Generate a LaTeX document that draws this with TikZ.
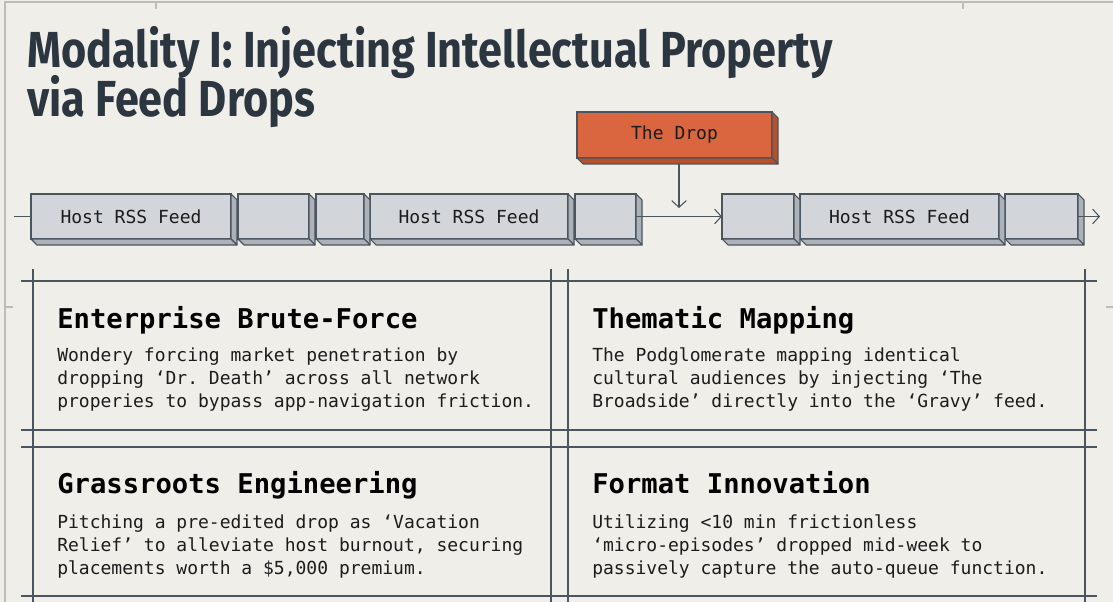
\documentclass[tikz,border=0pt]{standalone}
\usepackage{fontspec}
\setmonofont{DejaVu Sans Mono}
\newfontfamily\titlefont{Fira Sans}[FakeStretch=0.853]
\usetikzlibrary{arrows.meta,calc}
\definecolor{bg}{HTML}{F0EEE8}
\definecolor{slate}{HTML}{4A5560}
\definecolor{titlec}{HTML}{2B3640}
\definecolor{face}{HTML}{D2D6DA}
\definecolor{side}{HTML}{ACB2B8}
\definecolor{dropc}{HTML}{D9663E}
\definecolor{dropside}{HTML}{B4522D}
\definecolor{framec}{HTML}{BDBDB8}
\definecolor{ink}{HTML}{1C1C1C}
\tikzset{
  feedbox/.style={draw=slate, line width=0.8pt, fill=face, minimum height=33.75pt, inner sep=0pt, outer sep=0pt,
    font=\ttfamily\fontsize{13.5}{16}\selectfont, text=ink},
  dropbox/.style={feedbox, fill=dropc, minimum height=34.5pt},
  gridline/.style={draw=slate, line width=1pt},
  frameline/.style={draw=framec, line width=1.4pt},
  arr/.style={draw=slate, line width=0.8pt, -{Straight Barb[length=5pt,width=11pt,line width=0.8pt]}},
  plain/.style={draw=slate, line width=0.8pt},
  heading/.style={anchor=base west, inner sep=0pt, font=\ttfamily\bfseries\fontsize{20.4}{24}\selectfont, text=black},
  bodytext/.style={anchor=north west, inner sep=0pt, align=left, font=\ttfamily\fontsize{13.5}{17.25}\selectfont, text=ink},
  titletext/.style={anchor=base west, inner sep=0pt, font=\titlefont\bfseries\fontsize{38}{40}\selectfont, text=titlec}
}
\newcommand\extrude[2]{%
  \filldraw[fill=#2, draw=slate, line width=0.8pt, line join=round]
    (#1.north east) -- ++(6,6) -- ($(#1.south east)+(6,6)$) -- (#1.south east) -- cycle;
  \filldraw[fill=#2, draw=slate, line width=0.8pt, line join=round]
    (#1.south west) -- ++(6,6) -- ($(#1.south east)+(6,6)$) -- (#1.south east) -- cycle;
}
\begin{document}
\begin{tikzpicture}[x=0.75pt, y=-0.75pt]
\fill[bg] (0,0) rectangle (1113,602);
\useasboundingbox (0,0) rectangle (1113,602);

% outer frame
\draw[frameline] (5,602) -- (5,2) -- (1113,2);
\draw[frameline] (156,2) -- (156,9);
\draw[frameline] (963,2) -- (963,9);
\draw[frameline] (5,307) -- (13,307);
\draw[frameline] (1106,307) -- (1113,307);

% title
\node[titletext] (title1) at (27,68) {Modality I: Injecting Intellectual Property};
\node[titletext] (title2) at (27,117) {via Feed Drops};

% feed row
\node[feedbox, minimum width=150pt]   (b1) at (131,216.5)   {Host RSS Feed};
\node[feedbox, minimum width=53.25pt] (b2) at (273.5,216.5) {};
\node[feedbox, minimum width=36pt]    (b3) at (340,216.5)   {};
\node[feedbox, minimum width=148.5pt] (b4) at (469,216.5)   {Host RSS Feed};
\node[feedbox, minimum width=45.75pt] (b5) at (605.5,216.5) {};
\node[feedbox, minimum width=54pt]    (b6) at (758,216.5)   {};
\node[feedbox, minimum width=149.25pt](b7) at (899.5,216.5) {Host RSS Feed};
\node[feedbox, minimum width=54.75pt] (b8) at (1041.5,216.5){};
\foreach \n in {b1,b2,b3,b4,b5,b6,b7,b8}{\extrude{\n}{side}}

\node[dropbox, minimum width=146.25pt] (drop) at (674.5,135) {The Drop};
\extrude{drop}{dropside}

\coordinate (lstart) at (14,216.5);
\coordinate (endtip) at (1100,216.5);
\coordinate (droptip) at (679,208);
\draw[plain] (lstart) -- (b1.west);
\draw[arr] (b5.east) -- (b6.west);
\draw[arr] (b8.east) -- (endtip);
\draw[arr] ($(drop.south)+(4.5,6)$) -- (droptip);

% grid
\draw[gridline] (21,281) -- (1097,281);
\draw[gridline] (21,430) -- (1097,430);
\draw[gridline] (21,447) -- (1097,447);
\draw[gridline] (21,596) -- (1097,596);
\draw[gridline] (33,269) -- (33,602);
\draw[gridline] (551,269) -- (551,602);
\draw[gridline] (568,269) -- (568,602);
\draw[gridline] (1085,269) -- (1085,602);

% cells
\node[heading] (h1) at (57,328) {Enterprise Brute-Force};
\node[bodytext] (p1) at (57,345) {\strut Wondery forcing market penetration by\\dropping ‘Dr. Death’ across all network\\properies to bypass app-navigation friction.};
\node[heading] (h2) at (592,328) {Thematic Mapping};
\node[bodytext] (p2) at (592,345) {\strut The Podglomerate mapping identical\\cultural audiences by injecting ‘The\\Broadside’ directly into the ‘Gravy’ feed.};
\node[heading] (h3) at (57,493) {Grassroots Engineering};
\node[bodytext] (p3) at (57,512) {\strut Pitching a pre-edited drop as ‘Vacation\\Relief’ to alleviate host burnout, securing\\placements worth a \$5,000 premium.};
\node[heading] (h4) at (592,493) {Format Innovation};
\node[bodytext] (p4) at (592,512) {\strut Utilizing <10 min frictionless\\‘micro-episodes’ dropped mid-week to\\passively capture the auto-queue function.};
\end{tikzpicture}
\end{document}
